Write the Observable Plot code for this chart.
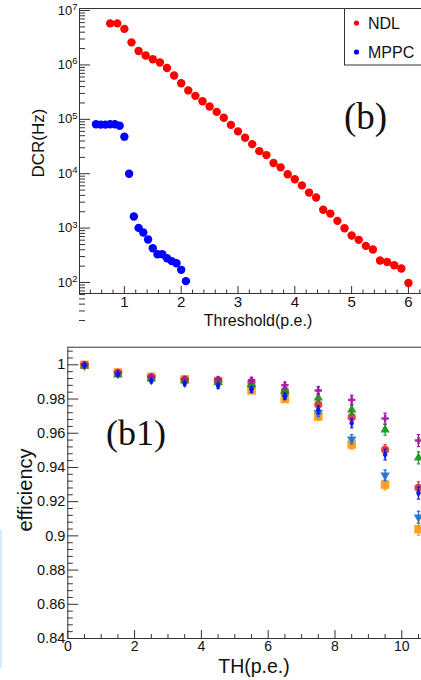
<!DOCTYPE html>
<html><head><meta charset="utf-8">
<script src="https://cdn.jsdelivr.net/npm/d3@7"></script>
<script src="https://cdn.jsdelivr.net/npm/@observablehq/plot@0.6"></script>
<style>
body{margin:0;background:#fff;}
#wrap{position:relative;width:421px;height:680px;overflow:hidden;background:#fff;}
#top,#bot{position:absolute;left:0;}
#top{top:0;} #bot{top:330px;}
#strip{position:absolute;left:0;top:530px;width:2px;height:138px;background:#d6eaf7;}
</style></head><body>
<div id="wrap"><div id="top"></div><div id="bot"></div><div id="strip"></div></div>
<script>
// ---------------- data: panel (b) ----------------
const seriesNames = ["NDL", "MPPC"];
const ndlThreshold = [0.75,0.875,1.0,1.125,1.25,1.375,1.5,1.625,1.75,1.875,2.0,2.125,2.25,2.375,2.5,2.625,2.75,2.875,3.0,3.125,3.25,3.375,3.5,3.625,3.75,3.875,4.0,4.125,4.25,4.375,4.5,4.625,4.75,4.875,5.0,5.125,5.25,5.375,5.5,5.625,5.75,5.875,6.0];
const ndlDCR = [5.8e6,5.8e6,4.6e6,2.6e6,1.8e6,1.49e6,1.27e6,1.11e6,8.8e5,6.4e5,4.6e5,3.4e5,2.7e5,2.15e5,1.72e5,1.37e5,1.07e5,7.9e4,6.0e4,4.6e4,3.5e4,2.6e4,2.2e4,1.57e4,1.31e4,9.8e3,7.9e3,6.1e3,4.5e3,3.65e3,2.17e3,1.85e3,1.36e3,995,731,609,472,404,254,239,208,181,98];
const mppcThreshold = [0.5,0.583,0.667,0.75,0.833,0.917,1.0,1.083,1.167,1.25,1.333,1.417,1.5,1.583,1.667,1.75,1.833,1.917,2.0,2.083];
const mppcDCR = [8.1e4,8.0e4,8.0e4,8.1e4,8.1e4,7.6e4,4.8e4,1.0e4,1.63e3,1.01e3,830,617,427,331,331,280,247,226,171,106];
const dcrTicks = [1e2,1e3,1e4,1e5,1e6,1e7];
const thresholdTicks = [1,2,3,4,5,6];

// ---------------- data: panel (b1) ----------------
const thBins = [0.5,1.5,2.5,3.5,4.5,5.5,6.5,7.5,8.5,9.5,10.5];
const effOrange = [1.0000,0.9955,0.9930,0.9915,0.9905,0.9850,0.9800,0.9698,0.9534,0.9300,0.9039];
const effSteel  = [0.9995,0.9948,0.9922,0.9905,0.9890,0.9867,0.9820,0.9720,0.9565,0.9354,0.9109];
const effRed    = [0.9998,0.9952,0.9926,0.9912,0.9908,0.9898,0.9848,0.9768,0.9694,0.9503,0.9281];
const effGreen  = [0.9995,0.9942,0.9918,0.9908,0.9898,0.9885,0.9850,0.9807,0.9737,0.9620,0.9456];
const effPurple = [1.0000,0.9955,0.9930,0.9915,0.9915,0.9910,0.9880,0.9850,0.9795,0.9686,0.9557];
const effBlue   = [0.9997,0.9945,0.9905,0.9890,0.9877,0.9855,0.9816,0.9737,0.9659,0.9475,0.9250];
const effErr    = [0.0008,0.0010,0.0011,0.0012,0.0014,0.0016,0.0019,0.0023,0.0027,0.0031,0.0035];
const effTicks = [0.84,0.86,0.88,0.9,0.92,0.94,0.96,0.98,1];
const thTicks = [0,2,4,6,8,10];

// ---------------- styles ----------------
const FONT = "'Liberation Sans', Arial, Helvetica, sans-serif";
const SERIF = "'Liberation Serif', 'Times New Roman', serif";
const AX = "#333";
const topColors = ["#ff0000", "#0000ff"];

// ---------------- panel (b) ----------------
const T = {w: 421, h: 330, mt: 8, mb: 37, ml: 79, mr: 0};
const tFW = T.w - T.ml - T.mr, tFH = T.h - T.mt - T.mb;
const topMinorX = d3.range(2, 32).filter(i => i % 5 !== 0).map(i => i / 5);
const topMinorY = [];
for (let k = 1; k <= 6; k++) for (let m = 2; m <= 9; m++) topMinorY.push(m * 10 ** k);

const ndl = ndlThreshold.map((x, i) => ({x, y: ndlDCR[i]}));
const mppc = mppcThreshold.map((x, i) => ({x, y: mppcDCR[i]}));

const topSvg = Plot.plot({
  width: T.w, height: T.h,
  marginTop: T.mt, marginBottom: T.mb, marginLeft: T.ml, marginRight: T.mr,
  style: {fontFamily: FONT, fontSize: "15px", background: "transparent", color: "#111"},
  x: {domain: [0.21, 6.23]},
  y: {type: "log", domain: [62.8, 1.09e7]},
  marks: [
    Plot.tickX(thresholdTicks, {x: d => d, insetTop: tFH - 7, stroke: AX}),
    Plot.tickX(topMinorX, {x: d => d, insetTop: tFH - 3.5, stroke: AX}),
    Plot.tickY(dcrTicks, {y: d => d, insetRight: tFW - 11, stroke: AX}),
    Plot.tickY(topMinorY, {y: d => d, insetRight: tFW - 6, stroke: AX}),
    Plot.axisX(thresholdTicks, {tickSize: 0, tickPadding: 3, label: null, fontSize: 15, tickFormat: d => String(d)}),
    Plot.axisY(dcrTicks, {tickSize: 0, tickPadding: 2, label: null, fontSize: 13,
      tickFormat: d => "10^" + Math.round(Math.log10(d))}),
    Plot.dot(ndl, {x: "x", y: "y", r: 4.2, fill: topColors[0]}),
    Plot.dot(mppc, {x: "x", y: "y", r: 4.2, fill: topColors[1]}),
    Plot.frame({stroke: AX})
  ]
});
document.getElementById("top").appendChild(topSvg);

function superscript(svg) {
  d3.select(svg).selectAll('g[aria-label="y-axis tick label"] text').each(function () {
    const m = (this.textContent || "").match(/^10\^(\d+)$/);
    if (!m) return;
    const s = d3.select(this);
    s.text(null);
    s.append("tspan").text("10");
    s.append("tspan").attr("dy", "-0.5em").attr("font-size", "9.5px").text(m[1]);
  });
}
superscript(topSvg);

{
  const g = d3.select(topSvg).append("g").attr("font-family", FONT).attr("text-anchor", "start");
  // axis titles
  g.append("text").attr("x", 258).attr("y", 326).attr("text-anchor", "middle")
    .attr("font-size", 16).attr("fill", "#111").text("Threshold(p.e.)");
  g.append("text").attr("transform", "translate(44,143) rotate(-90)").attr("text-anchor", "middle")
    .attr("font-size", 17).attr("fill", "#111").text("DCR(Hz)");
  // panel tag
  g.append("text").attr("x", 344).attr("y", 129).attr("text-anchor", "start").attr("font-family", SERIF)
    .attr("font-size", 37).attr("fill", "#111").text("(b)");
  // legend
  g.append("rect").attr("x", 344.5).attr("y", 8.5).attr("width", 90).attr("height", 56.5)
    .attr("fill", "#fff").attr("stroke", AX);
  seriesNames.forEach((name, i) => {
    const y = 23 + i * 29;
    g.append("circle").attr("cx", 356.5).attr("cy", y).attr("r", 2.6).attr("fill", topColors[i]);
    g.append("text").attr("x", 368).attr("y", y).attr("dy", "0.36em").attr("text-anchor", "start")
      .attr("font-size", 16).attr("fill", "#111").text(name);
  });
}

// ---------------- panel (b1) ----------------
const B = {w: 421, h: 350, mt: 16.7, mb: 42, ml: 67.3, mr: 0};
const bFW = B.w - B.ml - B.mr, bFH = B.h - B.mt - B.mb;
const botMinorX = d3.range(1, 22).filter(i => i % 4 !== 0).map(i => i / 2);
const botMinorY = d3.range(210, 253).filter(i => i % 5 !== 0).map(i => +(i * 0.004).toFixed(3));

const effSeries = [
  {vals: effOrange, color: "#ff9a0c", symbol: "square", r: 4.8, rotate: 0},
  {vals: effSteel,  color: "#1f72d3", symbol: "triangle", r: 3.5, rotate: 180},
  {vals: effRed,    color: "#d43a3a", symbol: "circle", r: 4.1, rotate: 0},
  {vals: effGreen,  color: "#16961a", symbol: "triangle", r: 3.5, rotate: 0},
  {vals: effPurple, color: "#9e1aa2", symbol: "cross", r: 3.1, rotate: 0},
  {vals: effBlue,   color: "#0a12ee", symbol: "diamond", r: 2.6, rotate: 0}
];
const capSym = {draw(ctx, size) { const r = Math.sqrt(size / Math.PI); ctx.moveTo(-r, 0); ctx.lineTo(r, 0); }};

const effMarks = [];
effSeries.forEach(s => {
  const rows = thBins.map((x, i) => ({x, y: s.vals[i], lo: s.vals[i] - effErr[i], hi: s.vals[i] + effErr[i]}));
  effMarks.push(Plot.ruleX(rows, {x: "x", y1: "lo", y2: "hi", stroke: s.color, strokeWidth: 1.3}));
  effMarks.push(Plot.dot(rows, {x: "x", y: "hi", symbol: capSym, r: 1.7, stroke: s.color, strokeWidth: 1.2}));
  effMarks.push(Plot.dot(rows, {x: "x", y: "lo", symbol: capSym, r: 1.7, stroke: s.color, strokeWidth: 1.2}));
  effMarks.push(Plot.dot(rows, {x: "x", y: "y", symbol: s.symbol, r: s.r, rotate: s.rotate, fill: s.color, fillOpacity: 0.92, stroke: "none"}));
});

const botSvg = Plot.plot({
  width: B.w, height: B.h,
  marginTop: B.mt, marginBottom: B.mb, marginLeft: B.ml, marginRight: B.mr,
  style: {fontFamily: FONT, fontSize: "15px", background: "transparent", color: "#111"},
  x: {domain: [0, 10.59]},
  y: {domain: [0.84, 1.0103]},
  marks: [
    Plot.tickX(thTicks, {x: d => d, insetTop: bFH - 8, stroke: AX}),
    Plot.tickX(botMinorX, {x: d => d, insetTop: bFH - 4, stroke: AX}),
    Plot.tickY(effTicks, {y: d => d, insetRight: bFW - 11, stroke: AX}),
    Plot.tickY(botMinorY, {y: d => d, insetRight: bFW - 5.5, stroke: AX}),
    Plot.axisX(thTicks, {tickSize: 0, tickPadding: 3, label: null, fontSize: 14, tickFormat: d => String(d)}),
    Plot.axisY(effTicks, {tickSize: 0, tickPadding: 2.5, label: null, fontSize: 14.5, tickFormat: d => String(+d.toFixed(2))}),
    ...effMarks,
    Plot.frame({stroke: AX})
  ]
});
document.getElementById("bot").appendChild(botSvg);

{
  const g = d3.select(botSvg).append("g").attr("font-family", FONT).attr("text-anchor", "start");
  g.append("text").attr("x", 254).attr("y", 343).attr("text-anchor", "middle")
    .attr("font-size", 19.5).attr("fill", "#111").text("TH(p.e.)");
  g.append("text").attr("transform", "translate(32,160) rotate(-90)").attr("text-anchor", "middle")
    .attr("font-size", 20).attr("fill", "#111").text("efficiency");
  g.append("text").attr("x", 106).attr("y", 115).attr("text-anchor", "start").attr("font-family", SERIF)
    .attr("font-size", 36).attr("fill", "#111").text("(b1)");
}
</script>
</body></html>
